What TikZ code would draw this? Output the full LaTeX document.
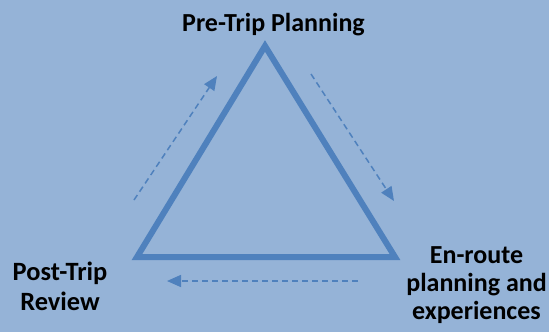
\documentclass[tikz,border=0pt]{standalone}
\usepackage{fontspec}
\setmainfont{Carlito}
\usetikzlibrary{arrows.meta}
\definecolor{bgblue}{HTML}{95B3D7}
\definecolor{edgeblue}{HTML}{4F81BD}
\tikzset{
  stagelabel/.style={text=black, align=center, inner sep=0pt, anchor=base},
  cycleedge/.style={draw=edgeblue, line width=6pt, line join=miter},
  flowarrow/.style={draw=edgeblue, line width=1.5pt, dash pattern=on 6pt off 4pt,
    -{Triangle[length=14pt, width=12pt, fill=edgeblue]}}
}
\begin{document}
\begin{tikzpicture}[x=1pt, y=-1pt]
  \fill[bgblue] (0,0) rectangle (549,332);
  \useasboundingbox (0,0) rectangle (549,332);

  % corners of the cycle triangle
  \coordinate (apex) at (265,46);
  \coordinate (left) at (137,257);
  \coordinate (right) at (395,257);
  \draw[cycleedge] (apex) -- (right) -- (left) -- cycle;

  % stage labels (base anchor sits on the last line)
  \node[stagelabel, font=\bfseries\fontsize{26}{30}\selectfont] (pre) at (273.5,31.7) {Pre-Trip Planning};
  \node[stagelabel, font=\bfseries\fontsize{26.4}{29.5}\selectfont] (post) at (60,310) {Post-Trip\\Review};
  \node[stagelabel, font=\bfseries\fontsize{26}{27.8}\selectfont] (enroute) at (476.5,319) {En-route\\planning and\\experiences};

  % direction of the cycle
  \coordinate (a1s) at (134,200);
  \coordinate (a1e) at (217,76);
  \coordinate (a2s) at (311,74);
  \coordinate (a2e) at (394,201);
  \coordinate (a3s) at (358,281);
  \coordinate (a3e) at (167,281);
  \draw[flowarrow] (a1s) -- (a1e);
  \draw[flowarrow] (a2s) -- (a2e);
  \draw[flowarrow] (a3s) -- (a3e);
\end{tikzpicture}
\end{document}
